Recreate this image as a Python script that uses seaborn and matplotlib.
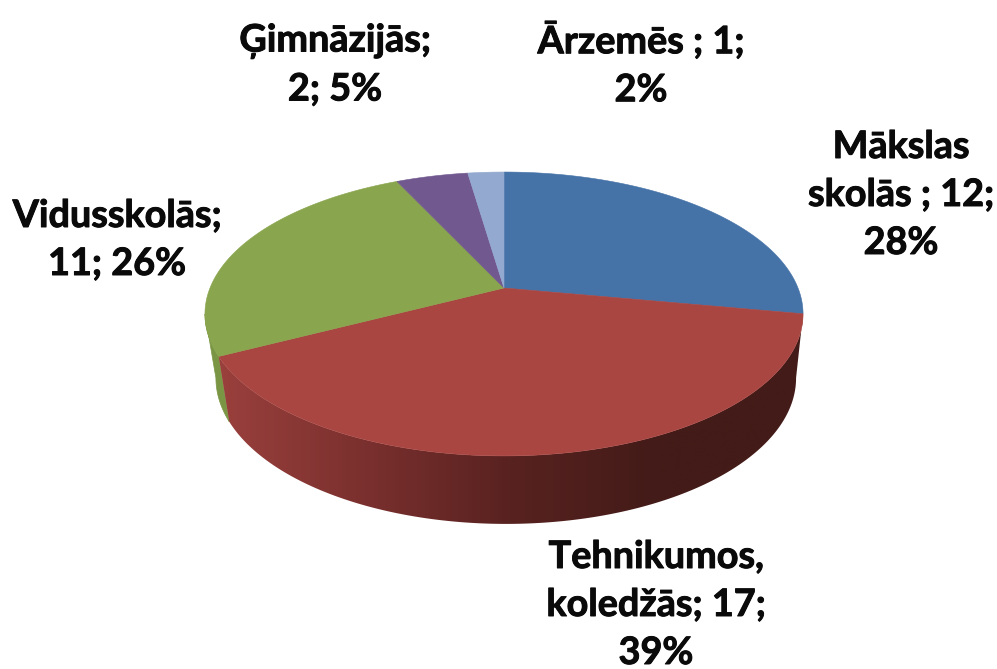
import numpy as np
import matplotlib
matplotlib.use("Agg")
import matplotlib.pyplot as plt
import matplotlib.patheffects as pe
from matplotlib.patches import Polygon
import seaborn as sns

# --- data ---
categories = ["Mākslas\nskolās ; ", "Tehnikumos,\nkoledžās; ", "Vidusskolās;\n", "Ģimnāzijās;\n", "Ārzemēs ; "]
counts = [12, 17, 11, 2, 1]
percents = [28, 39, 26, 5, 2]
label_breaks = ["\n", "\n", " ", " ", "\n"]
colors = ["#4572A7", "#A94642", "#89A54E", "#71588F", "#93A9CF"]
label_x = [901, 656, 117, 335, 641]
label_y = [195, 605, 240, 65, 64]

sns.set_theme(style="white")
plt.rcParams["font.family"] = ["Lato", "DejaVu Sans"]

fig, ax = plt.subplots(figsize=(9.97, 6.69), dpi=100)
ax.set_position([0, 0, 1, 1])
ax.axis("off")

# perspective disc: apex, radii and tilt of the projected circle
CX, CY, A, B, K = 504.0, 288.0, 294.0, 137.2, 0.183


def top_rim(theta):
    u, v = np.sin(theta), -np.cos(theta)
    w = 1 - K * v
    return CX + A * u / w, CY + B * v / w


def bottom_rim(theta):
    x, y = top_rim(theta)
    return 506 + (x - CX) * 0.97, 378 + (y - 314) * 1.028


def wall(a):
    xt, yt = top_rim(a)
    xb, yb = bottom_rim(a)
    return np.r_[xt, xb[::-1]], np.r_[yt, yb[::-1]]


edges = np.cumsum([0] + counts) / sum(counts) * 2 * np.pi

# side wall: green piece on the left
gx, gy = wall(np.linspace(edges[2], np.arccos(-K) * -1 + 2 * np.pi, 40))
ax.fill(gx, gy, color="#7A9645", lw=0.5, zorder=1)

# side wall: red piece with a horizontal gradient
shade = sns.blend_palette(["#9A403D", "#7A302E", "#582220", "#431B18", "#431B18"], 256)
rx, ry = wall(np.linspace(edges[1], edges[2], 300))
clip = Polygon(np.c_[rx, ry], closed=True, transform=ax.transData, fc="none", ec="none")
ax.add_patch(clip)
img = ax.imshow(np.array(shade)[None, :, :], extent=[218, 803, 560, 300], aspect="auto",
                interpolation="bilinear", zorder=2)
img.set_clip_path(clip)

# top face
for i, col in enumerate(colors):
    a = np.linspace(edges[i], edges[i + 1], 200)
    x, y = top_rim(a)
    ax.fill(np.r_[CX, x], np.r_[CY, y], color=col, lw=0.4, zorder=3)

# labels
for name, n, p, brk, lx, ly in zip(categories, counts, percents, label_breaks, label_x, label_y):
    ax.text(lx, ly, f"{name}{n};{brk}{p}%", ha="center", va="center", fontsize=27.2,
            fontweight="bold", color="#0a0a0a", linespacing=1.5, zorder=5,
            path_effects=[pe.withStroke(linewidth=0.7, foreground="#0a0a0a")])

ax.set_xlim(0, 997)
ax.set_ylim(669, 0)
fig.savefig("out.png", dpi=100)
